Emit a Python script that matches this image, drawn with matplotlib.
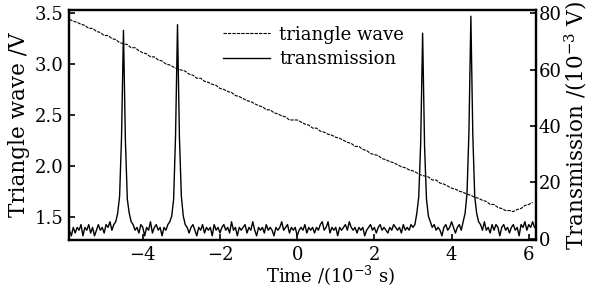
import numpy as np
import matplotlib.pyplot as plt

plt.rcParams['font.family'] = ['DejaVu Serif']
plt.rcParams['mathtext.fontset'] = 'dejavuserif'

# triangle wave (V), sampled every 0.1 ms from -5.9 to 6.1
t_tri = np.linspace(-5.9, 6.1, 121)
tri = [3.44, 3.42, 3.41, 3.39, 3.38, 3.35, 3.35, 3.32, 3.31, 3.28,
       3.28, 3.25, 3.24, 3.21, 3.20, 3.19, 3.16, 3.16, 3.13, 3.11,
       3.10, 3.07, 3.07, 3.04, 3.03, 3.00, 2.99, 2.97, 2.95, 2.94,
       2.93, 2.90, 2.89, 2.86, 2.86, 2.83, 2.82, 2.80, 2.79, 2.76,
       2.75, 2.73, 2.72, 2.69, 2.68, 2.66, 2.64, 2.63, 2.61, 2.59,
       2.58, 2.55, 2.55, 2.52, 2.51, 2.49, 2.48, 2.45, 2.45, 2.45,
       2.43, 2.41, 2.40, 2.37, 2.37, 2.34, 2.33, 2.31, 2.30, 2.28,
       2.27, 2.25, 2.23, 2.22, 2.19, 2.19, 2.16, 2.15, 2.12, 2.11,
       2.10, 2.07, 2.06, 2.04, 2.03, 2.01, 1.99, 1.98, 1.96, 1.95,
       1.93, 1.91, 1.90, 1.89, 1.86, 1.86, 1.83, 1.82, 1.80, 1.78,
       1.77, 1.75, 1.74, 1.72, 1.71, 1.69, 1.68, 1.66, 1.65, 1.62,
       1.62, 1.59, 1.58, 1.56, 1.56, 1.55, 1.57, 1.58, 1.61, 1.62,
       1.64]

# transmission (1e-3 V), sampled every 0.05 ms from -5.9 to 6.15
t_tr = np.linspace(-5.9, 6.15, 242)
trans = [3, 1, 4, 2, 4, 3, 5, 1, 4, 3,
         5, 2, 4, 1, 3, 5, 3, 4, 2, 5,
         4, 6, 3, 5,
         6, 9, 15, 36, 74, 35, 14, 9, 6,
         5, 3, 4, 2, 5, 4, 1,
         4, 3, 6, 2, 4, 5, 3, 4, 1, 4,
         3, 5,
         6, 8, 14, 37, 76, 36, 15, 8, 5,
         4, 2, 4, 5, 3, 1, 4, 3, 5,
         2, 4, 3, 4, 1, 5, 3, 4, 2, 4,
         5, 3, 4, 2, 6, 3, 4, 1, 4, 3,
         4, 5, 2, 4, 3, 6, 3, 1, 4, 3,
         4, 2, 5, 3, 4, 3, 1, 4, 3, 4,
         6, 3, 4, 5, 2, 4, 3, 4, 1, 3,
         4, 3, 5, 2, 4, 3, 4, 2, 4, 3,
         5, 6, 3, 4, 6, 2, 4, 3, 4, 1,
         4, 3, 4, 5, 3, 6, 4, 3, 4, 2,
         4, 3, 4, 1, 3, 4, 5, 3, 4, 2,
         4, 5, 3, 4, 3, 2, 4, 3, 5, 4,
         3, 4, 2, 5, 3, 4, 3, 5, 4,
         5, 9, 15, 34, 73, 33, 14, 8, 6,
         4, 5, 3, 4, 3, 1, 4, 5, 3, 4, 6, 4,
         2, 4, 5, 3,
         6, 9, 16, 38, 79, 37, 15, 9, 6,
         5, 3, 6, 3, 4, 2, 5,
         3, 5, 4, 1, 4, 5, 3, 4, 2, 4,
         5, 3, 4, 1, 5, 4, 6, 3, 5, 4, 6, 4]

x_ticks = [-4, -2, 0, 2, 4, 6]
left_ticks = [1.5, 2.0, 2.5, 3.0, 3.5]
right_ticks = [0, 20, 40, 60, 80]

fig = plt.figure(figsize=(5.9, 2.96), dpi=100)
ax = fig.add_axes([0.117, 0.189, 0.791, 0.777])
ax2 = ax.twinx()

l1, = ax.plot(t_tri, tri, color='black', lw=0.8, ls=(0, (3, 1)),
              label='triangle wave')
l2, = ax2.plot(t_tr, trans, color='black', lw=1.0, label='transmission')

ax.set_xlim(-5.91, 6.18)
ax.set_ylim(1.27, 3.53)
ax2.set_ylim(-0.5, 81.2)

ax.set_xticks(x_ticks)
ax.set_xticklabels([str(v).replace('-', '\u2212') for v in x_ticks])
ax.set_yticks(left_ticks)
ax.set_yticklabels(['%.1f' % v for v in left_ticks])
ax2.set_yticks(right_ticks)

fs = 13
ax.tick_params(direction='in', length=4, width=1.2, labelsize=fs, pad=4)
ax2.tick_params(direction='in', length=4, width=1.2, labelsize=fs, pad=2)
for a in (ax, ax2):
    for s in a.spines.values():
        s.set_linewidth(1.6)

ax.set_xlabel('Time /(10$^{-3}$ s)', fontsize=fs, labelpad=2)
ax.xaxis.set_label_coords(0.56, -0.105)
ax.set_ylabel('Triangle wave /V', fontsize=15.5, labelpad=3)
ax2.set_ylabel('Transmission /(10$^{-3}$ V)', fontsize=15.5, labelpad=1)

ax2.legend(handles=[l1, l2], loc='upper left', bbox_to_anchor=(0.3, 0.995),
           frameon=False, fontsize=fs, handlelength=2.6, handletextpad=0.5,
           labelspacing=0.35, borderpad=0.3)

fig.savefig('out.png', dpi=100)
